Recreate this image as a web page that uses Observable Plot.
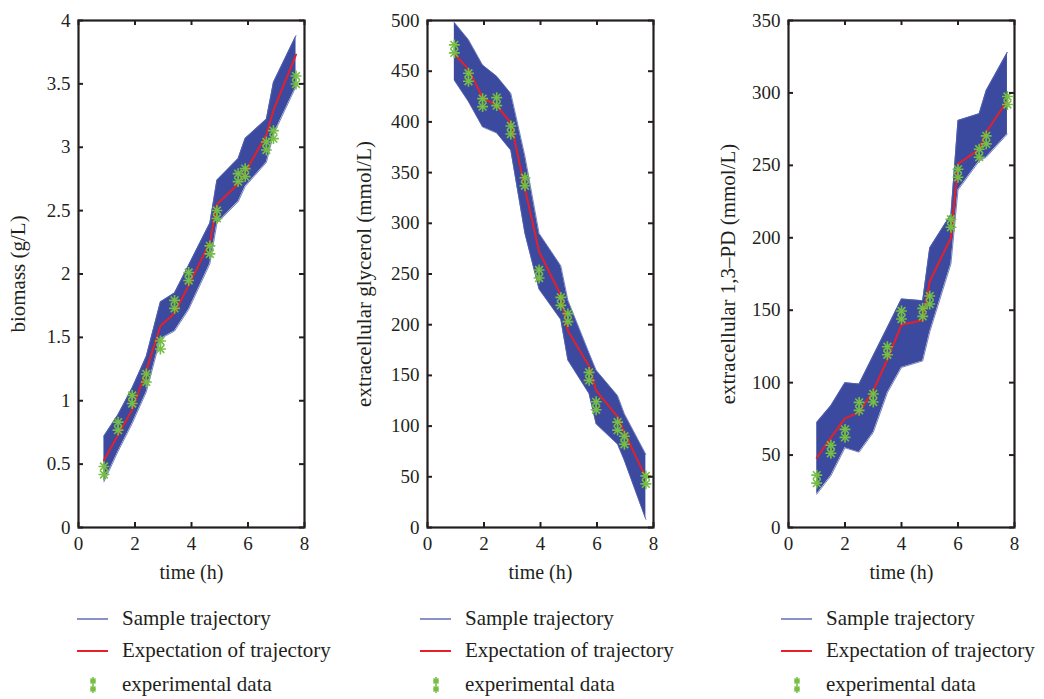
<!DOCTYPE html>
<html><head><meta charset="utf-8">
<script src="https://cdn.jsdelivr.net/npm/d3@7"></script>
<script src="https://cdn.jsdelivr.net/npm/@observablehq/plot@0.6"></script>
<style>
body{margin:0;background:#fff;font-family:"Liberation Serif",serif;}
#wrap{position:relative;width:1044px;height:699px;overflow:hidden;}
.panel{position:absolute;top:0;}
.leg{position:absolute;font-size:21px;color:#231f20;white-space:nowrap;line-height:1;}
.leg svg{position:absolute;left:0;top:-10px;}
.leg span{position:absolute;top:-11px;}
</style></head><body><div id="wrap"></div>
<script>
// ---- Panel 1: biomass ----
const t1 = [0.9,1.4,1.9,2.4,2.9,3.4,3.9,4.65,4.9,5.65,5.9,6.65,6.9,7.7];
const obs1 = [0.45,0.80,1.01,1.18,1.44,1.76,1.98,2.19,2.47,2.76,2.80,3.01,3.10,3.53];
const exp1 = [0.53,0.73,0.93,1.24,1.59,1.69,1.91,2.25,2.55,2.71,2.80,3.10,3.29,3.73];
const up1  = [0.72,0.89,1.10,1.35,1.78,1.85,2.07,2.40,2.74,2.91,3.07,3.22,3.51,3.88];
const lo1  = [0.36,0.60,0.82,1.07,1.49,1.55,1.72,2.08,2.40,2.57,2.69,2.88,3.10,3.48];
const yTicks1 = [0,0.5,1,1.5,2,2.5,3,3.5,4];

// ---- Panel 2: extracellular glycerol ----
const t2 = [0.95,1.45,1.95,2.45,2.95,3.45,3.95,4.72,4.97,5.72,5.97,6.73,6.97,7.73];
const obs2 = [472,444,419,420,392,341,250,223,207,149,120,100,86,47];
const exp2 = [467,452,424,416,399,334,272,229,194,159,135,109,94,49];
const up2  = [498,481,456,445,428,366,290,258,224,172,155,130,112,72];
const lo2  = [441,420,395,389,372,290,235,205,165,132,102,82,66,8];
const yTicks2 = [0,50,100,150,200,250,300,350,400,450,500];

// ---- Panel 3: extracellular 1,3-PD ----
const t3 = [1,1.5,2,2.5,3,3.5,4,4.75,5,5.75,6,6.75,7,7.75];
const obs3 = [33.4,54,65,83.6,89.4,122,146.7,148.5,157,210,244.5,258.4,267.6,294.8];
const exp3 = [48,62,75.3,79.5,94.4,116,140,143,170,200,251,261,273,294.8];
const up3  = [72.5,84,100,99,118.6,138,157.8,156.6,193,216,281,285.6,301.6,328];
const lo3  = [23,35.7,55,52,65.6,93,110.5,115,135,182,233,253,255.6,271.7];
const yTicks3 = [0,50,100,150,200,250,300,350];

const xTicks = [0,2,4,6,8];
const legendLabels = ["Sample trajectory","Expectation of trajectory","experimental data"];

const BLUE = "#3b4a9e", RED = "#e4202a", GREEN = "#76bf43", INK = "#231f20";
const FONT = "Liberation Serif, serif";
const H = 595, MT = 20, MB = 68, IW = 226, IH = H - MT - MB;

function makePanel(cfg){
  const rows = cfg.t.map((d,i)=>({t:d, obs:cfg.obs[i], exp:cfg.exp[i], up:cfg.up[i], lo:cfg.lo[i]}));
  const marker = [];
  for (const dy of [-4,4]) for (const s of ["plus","times"])
    marker.push(Plot.dot(rows,{x:"t",y:"obs",symbol:s,r:3.6,stroke:GREEN,strokeWidth:1.6,dy}));
  const tickStyle = {stroke:INK,strokeWidth:2};
  const plot = Plot.plot({
    width: 348, height: H,
    marginLeft: cfg.ml, marginRight: 348 - cfg.ml - IW, marginTop: MT, marginBottom: MB,
    style: {fontFamily: FONT, fontSize: "19px", color: INK, background: "white"},
    x: {domain: [0,8]},
    y: {domain: cfg.yDomain},
    marks: [
      Plot.areaY(rows,{x:"t",y1:"lo",y2:"up",fill:BLUE}),
      Plot.lineY(rows,{x:"t",y:"up",stroke:"#5563b0",strokeWidth:0.8}),
      Plot.lineY(rows,{x:"t",y:"lo",stroke:"#5563b0",strokeWidth:0.8}),
      Plot.lineY(rows,{x:"t",y:"exp",stroke:RED,strokeWidth:2}),
      ...marker,
      // inward ticks on all four sides
      Plot.ruleX(xTicks,{x:d=>d,insetTop:IH-5,...tickStyle}),
      Plot.ruleX(xTicks,{x:d=>d,insetBottom:IH-5,...tickStyle}),
      Plot.ruleY(cfg.yTicks,{y:d=>d,insetRight:IW-5,...tickStyle}),
      Plot.ruleY(cfg.yTicks,{y:d=>d,insetLeft:IW-5,...tickStyle}),
      Plot.frame({stroke:INK,strokeWidth:2.2}),
      Plot.axisX(xTicks,{anchor:"bottom",tickSize:0,tickPadding:9,fontFamily:FONT,fontSize:19,label:null}),
      Plot.axisY(cfg.yTicks,{anchor:"left",tickSize:0,tickPadding:8,fontFamily:FONT,fontSize:19,tickFormat:d=>String(d),label:null}),
      Plot.axisX({anchor:"bottom",ticks:[],tickSize:0,label:"time (h)",labelAnchor:"center",labelOffset:51,labelArrow:"none",fontFamily:FONT,fontSize:20}),
      Plot.axisY({anchor:"left",ticks:[],tickSize:0,label:cfg.yLabel,labelAnchor:"center",labelOffset:cfg.lo_,labelArrow:"none",fontFamily:FONT,fontSize:21})
    ]
  });
  const div = document.createElement("div");
  div.className = "panel";
  div.style.left = cfg.left + "px";
  div.appendChild(plot);
  document.getElementById("wrap").appendChild(div);

  // legend
  const rowsY = [619,651,685];
  legendLabels.forEach((lab,i)=>{
    const r = document.createElement("div");
    r.className = "leg";
    r.style.left = (cfg.left + cfg.legX) + "px";
    r.style.top = rowsY[i] + "px";
    let icon = "";
    if (i===0) icon = `<svg width="32" height="20"><line x1="0" x2="31" y1="10" y2="10" stroke="${BLUE}" stroke-width="1.2"/></svg>`;
    else if (i===1) icon = `<svg width="32" height="20"><line x1="0" x2="31" y1="10" y2="10" stroke="${RED}" stroke-width="2"/></svg>`;
    else icon = `<svg width="32" height="20"><g stroke="${GREEN}" stroke-width="1.6" fill="none">
      <path d="M16,2 V18 M13,6 H19 M13,14 H19 M13.5,3.5 L18.5,8.5 M18.5,3.5 L13.5,8.5 M13.5,11.5 L18.5,16.5 M18.5,11.5 L13.5,16.5"/></g></svg>`;
    r.innerHTML = icon + `<span style="left:45px">${lab}</span>`;
    document.getElementById("wrap").appendChild(r);
  });
}

makePanel({left:0, ml:78, t:t1, obs:obs1, exp:exp1, up:up1, lo:lo1, yDomain:[0,4], yTicks:yTicks1, yLabel:"biomass (g/L)", lo_:68, legX:77});
makePanel({left:348, ml:79, t:t2, obs:obs2, exp:exp2, up:up2, lo:lo2, yDomain:[0,500], yTicks:yTicks2, yLabel:"extracellular glycerol (mmol/L)", lo_:71, legX:72});
makePanel({left:696, ml:92, t:t3, obs:obs3, exp:exp3, up:up3, lo:lo3, yDomain:[0,350], yTicks:yTicks3, yLabel:"extracellular 1,3–PD (mmol/L)", lo_:68, legX:85});
</script>
</body></html>
